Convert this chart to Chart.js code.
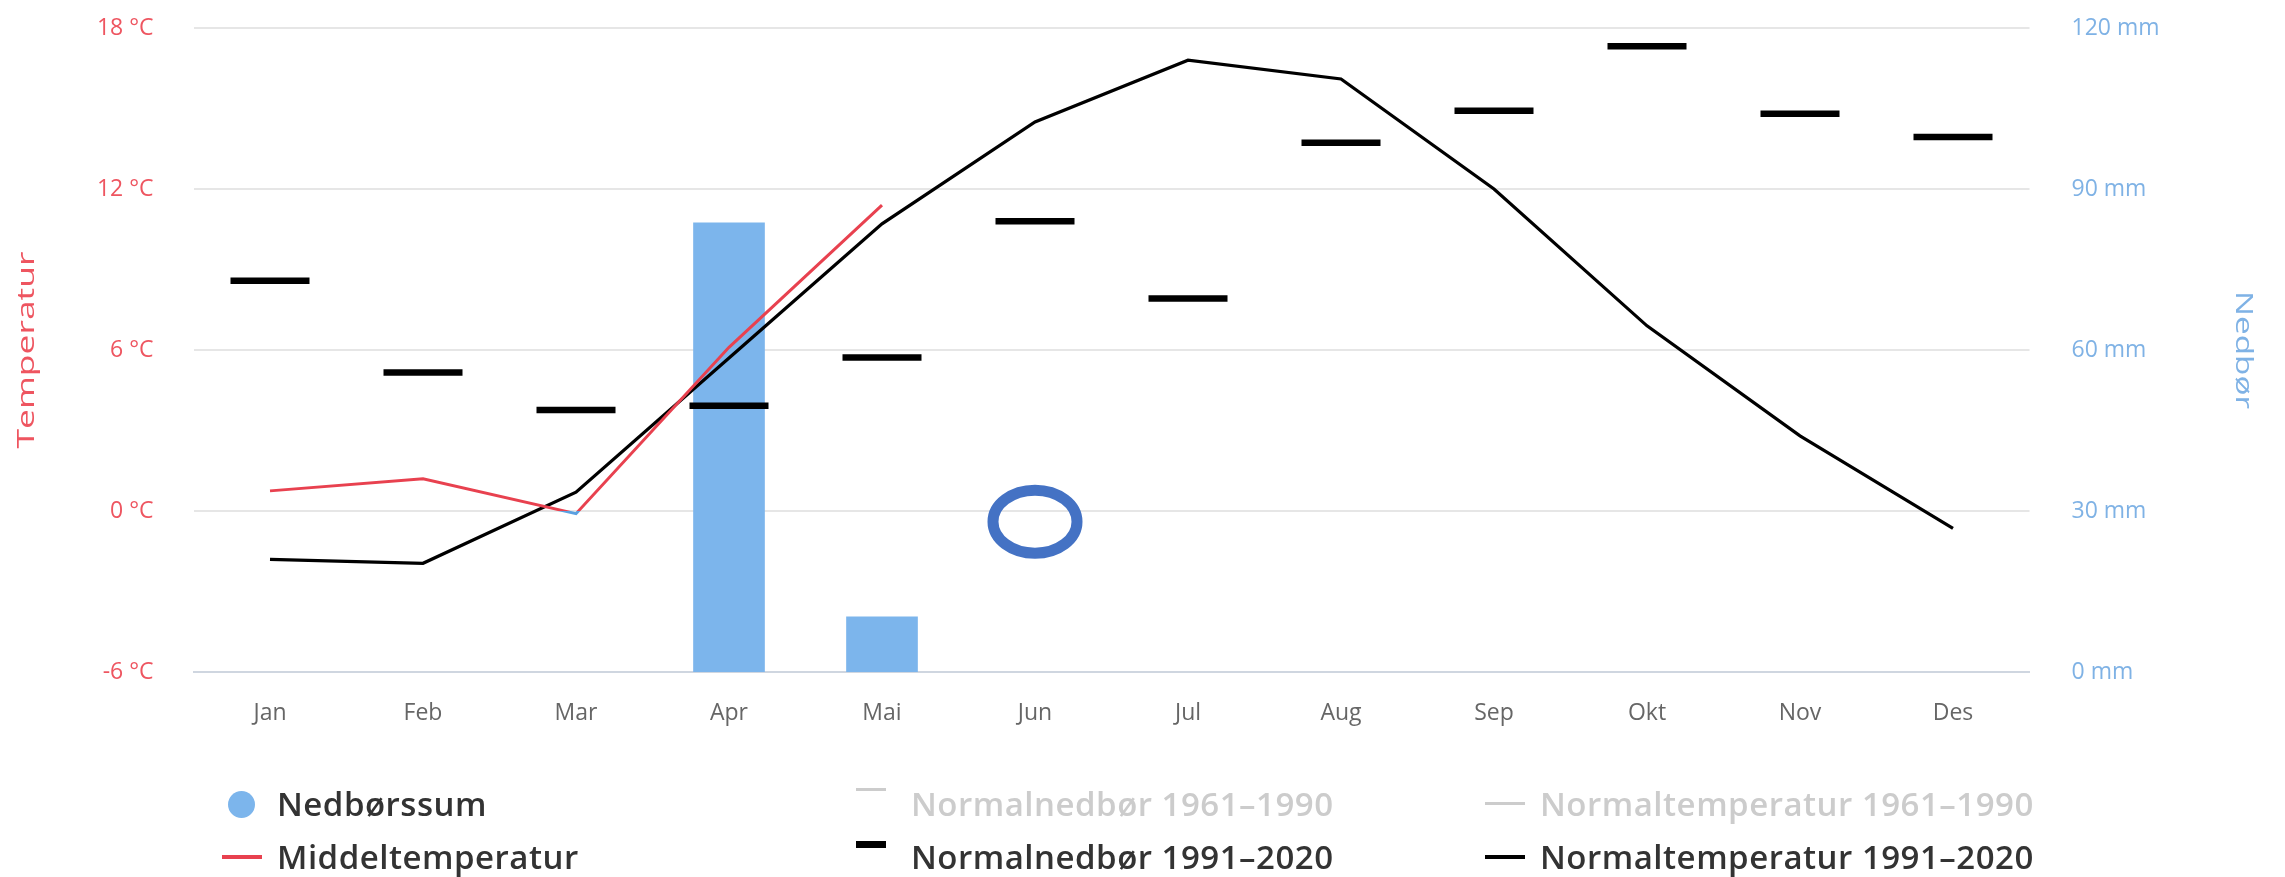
<!DOCTYPE html>
<html>
<head>
<meta charset="utf-8">
<script src="https://cdn.jsdelivr.net/npm/chart.js@4.4.1/dist/chart.umd.min.js"></script>
<style>
  html, body { margin: 0; padding: 0; background: #ffffff; overflow: hidden; }
  #wrap { position: relative; width: 2285px; height: 877px; overflow: hidden; }
  #c { position: absolute; left: 0; top: -18px; }
  .lg { position: absolute; font-family: "Open Sans", sans-serif; font-weight: 600; font-size: 33px; letter-spacing: 0.5px; color: #333333; white-space: nowrap; line-height: 40px; height: 40px; }
  .lg.off { color: #cccccc; }
  .sym { position: absolute; }
</style>
</head>
<body>
<div id="wrap">
  <canvas id="c" width="2285" height="895"></canvas>
  <div id="legend"></div>
</div>
<script>
// ---- data ----
const months = ['Jan', 'Feb', 'Mar', 'Apr', 'Mai', 'Jun', 'Jul', 'Aug', 'Sep', 'Okt', 'Nov', 'Des'];
const precipSum = [null, null, null, 83.7, 10.3, null, null, null, null, null, null, null];
const meanTemp = [0.75, 1.2, -0.1, 6.1, 11.4, null, null, null, null, null, null, null];
const normalPrecip1991 = [72.9, 55.8, 48.8, 49.6, 58.6, 84.0, 69.6, 98.6, 104.6, 116.6, 104.0, 99.7];
const normalTemp1991 = [-1.8, -1.95, 0.7, 5.7, 10.7, 14.5, 16.8, 16.1, 12.0, 6.9, 2.8, -0.65];
const normalPrecip1961 = [];
const normalTemp1961 = [];
const tempTicks = [-6, 0, 6, 12, 18];
const precipTicks = [0, 30, 60, 90, 120];
const markMonth = 'Jun';
const markTemp = -0.4;

const RED = '#e8414f';
const BLUE_BELOW = '#5aa0e0';
const BAR = '#7cb5ec';
const TITLE_RED = '#ee5560';
const TITLE_BLUE = '#7fb2e5';

function redBelowBlue(ctx) {
  const chart = ctx.chart;
  const area = chart.chartArea;
  if (!area) return RED;
  const y0 = chart.scales.yT.getPixelForValue(0);
  const g = chart.ctx.createLinearGradient(0, area.top, 0, area.bottom);
  const f = Math.min(1, Math.max(0, (y0 - area.top) / (area.bottom - area.top)));
  g.addColorStop(0, RED);
  g.addColorStop(f, RED);
  g.addColorStop(Math.min(1, f + 0.0001), BLUE_BELOW);
  g.addColorStop(1, BLUE_BELOW);
  return g;
}

const ellipsePlugin = {
  id: 'markEllipse',
  afterDatasetsDraw(chart) {
    const x = chart.scales.x.getPixelForValue(months.indexOf(markMonth));
    const y = chart.scales.yT.getPixelForValue(markTemp);
    const c = chart.ctx;
    c.save();
    c.beginPath();
    c.ellipse(x, y, 42, 31.5, 0, 0, Math.PI * 2);
    c.lineWidth = 11;
    c.strokeStyle = '#4472c4';
    c.stroke();
    c.restore();
  }
};

// stretched rotated axis titles (as in the reference)
const axisTitlePlugin = {
  id: 'axisTitles',
  afterDraw(chart) {
    const c = chart.ctx;
    const area = chart.chartArea;
    const cy = (area.top + area.bottom) / 2;
    const items = [
      { text: 'Temperatur', x: 27, rot: -Math.PI / 2, len: 197, color: TITLE_RED },
      { text: 'Nedbør', x: 2243, rot: Math.PI / 2, len: 118, color: TITLE_BLUE }
    ];
    items.forEach(it => {
      c.save();
      c.font = '23px "Open Sans", sans-serif';
      c.fillStyle = it.color;
      c.textAlign = 'center';
      c.textBaseline = 'middle';
      const w = c.measureText(it.text).width;
      c.translate(it.x, cy);
      c.rotate(it.rot);
      c.scale(it.len / w, 1);
      c.fillText(it.text, 0, 0);
      c.restore();
    });
  }
};

const tickFont = { family: '"Open Sans", sans-serif', size: 23 };

const chart = new Chart(document.getElementById('c'), {
  type: 'bar',
  data: {
    labels: months,
    datasets: [
      { type: 'bar', label: 'Nedbørssum', data: precipSum, yAxisID: 'yP', backgroundColor: BAR,
        barThickness: 71, order: 10, legendSym: 'circle', legendColor: BAR },
      { type: 'line', label: 'Middeltemperatur', data: meanTemp, yAxisID: 'yT', borderColor: redBelowBlue,
        borderWidth: 3, pointRadius: 0, tension: 0, order: 0, legendSym: 'line', legendColor: RED },
      { type: 'line', label: 'Normalnedbør 1961–1990', data: normalPrecip1961, yAxisID: 'yP', hidden: true,
        order: 3, legendSym: 'dash', legendColor: '#cccccc' },
      { type: 'line', label: 'Normalnedbør 1991–2020', data: normalPrecip1991, yAxisID: 'yP', showLine: false,
        pointStyle: 'line', pointRadius: 39.5, pointHoverRadius: 39.5, pointBorderWidth: 6.5, pointBorderColor: '#000000',
        borderColor: '#000000', order: 2, legendSym: 'dash', legendColor: '#000000' },
      { type: 'line', label: 'Normaltemperatur 1961–1990', data: normalTemp1961, yAxisID: 'yT', hidden: true,
        order: 3, legendSym: 'line', legendColor: '#cccccc' },
      { type: 'line', label: 'Normaltemperatur 1991–2020', data: normalTemp1991, yAxisID: 'yT', borderColor: '#000000',
        borderWidth: 3.2, pointRadius: 0, tension: 0, order: 1, legendSym: 'line', legendColor: '#000000' }
    ]
  },
  options: {
    responsive: false,
    animation: false,
    events: [],
    layout: { padding: { top: 8, left: 0, right: 0, bottom: 0 } },
    plugins: { legend: { display: false }, tooltip: { enabled: false } },
    scales: {
      x: {
        grid: { display: false, drawTicks: false },
        border: { display: true, color: '#cfd6e0', width: 2 },
        ticks: { color: '#666666', font: tickFont, padding: 28, maxRotation: 0 },
        afterFit(s) { s.height = 205; s.paddingLeft = 0; s.paddingRight = 0; }
      },
      yT: {
        position: 'left',
        min: -6, max: 18,
        afterBuildTicks(s) { s.ticks = tempTicks.map(v => ({ value: v })); },
        grid: { color: '#e6e6e6', lineWidth: 2, drawTicks: false },
        border: { display: false },
        ticks: { color: TITLE_RED, font: tickFont, padding: 40, callback: v => v + ' °C' },
        afterFit(s) { s.width = 193.5; s.paddingTop = 0; s.paddingBottom = 0; }
      },
      yP: {
        position: 'right',
        min: 0, max: 120,
        afterBuildTicks(s) { s.ticks = precipTicks.map(v => ({ value: v })); },
        grid: { display: false, drawTicks: false },
        border: { display: false },
        ticks: { color: TITLE_BLUE, font: tickFont, padding: 42, callback: v => v + ' mm' },
        afterFit(s) { s.width = 255.5; s.paddingTop = 0; s.paddingBottom = 0; }
      }
    }
  },
  plugins: [ellipsePlugin, axisTitlePlugin]
});

// ---- HTML legend built from datasets ----
const legendCols = [277, 911, 1540];
const legendRows = [804, 857];
const legendOrder = [0, 2, 4, 1, 3, 5];
const lg = document.getElementById('legend');
legendOrder.forEach((di, k) => {
  const ds = chart.data.datasets[di];
  const col = k % 3, row = Math.floor(k / 3);
  const tx = legendCols[col], cy = legendRows[row];
  const t = document.createElement('div');
  t.className = 'lg' + (ds.hidden ? ' off' : '');
  t.textContent = ds.label;
  t.style.left = tx + 'px';
  t.style.top = (cy - 20) + 'px';
  lg.appendChild(t);
  const s = document.createElement('div');
  s.className = 'sym';
  s.style.background = ds.legendColor;
  if (ds.legendSym === 'circle') {
    s.style.width = '27px'; s.style.height = '27px'; s.style.borderRadius = '50%';
    s.style.left = (tx - 49) + 'px'; s.style.top = (cy - 13.5) + 'px';
  } else if (ds.legendSym === 'line') {
    s.style.width = '40px'; s.style.height = ds.hidden ? '3px' : '4px';
    s.style.left = (tx - 55) + 'px'; s.style.top = (cy - 2) + 'px';
  } else {
    s.style.width = '30px'; s.style.height = ds.hidden ? '3px' : '7px';
    s.style.left = (tx - 55) + 'px'; s.style.top = (cy - 16) + 'px';
  }
  lg.appendChild(s);
});
</script>
</body>
</html>
